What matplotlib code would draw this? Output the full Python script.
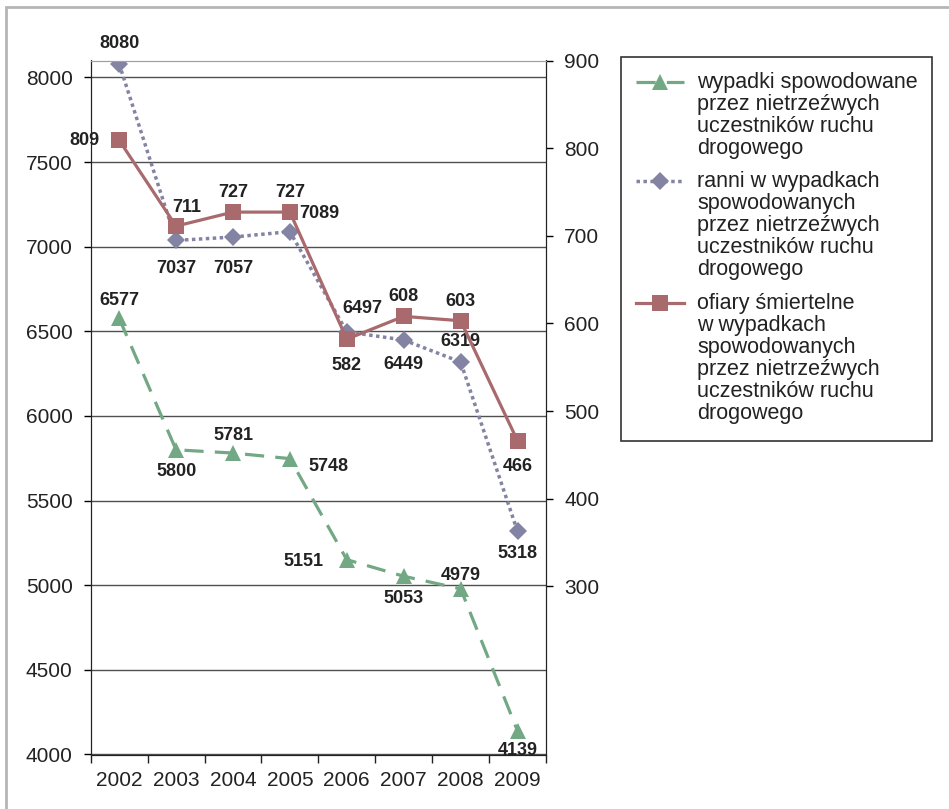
import numpy as np
import matplotlib.pyplot as plt
from matplotlib.lines import Line2D
from matplotlib.patches import Rectangle

plt.rcParams['font.family'] = ['Liberation Sans', 'DejaVu Sans']

# dane
lata = ['2002', '2003', '2004', '2005', '2006', '2007', '2008', '2009']
wypadki = [6577, 5800, 5781, 5748, 5151, 5053, 4979, 4139]
ranni = [8080, 7037, 7057, 7089, 6497, 6449, 6319, 5318]
ofiary = [809, 711, 727, 727, 582, 608, 603, 466]

lab_wypadki = ['wypadki spowodowane', 'przez nietrzeźwych',
               'uczestników ruchu', 'drogowego']
lab_ranni = ['ranni w wypadkach', 'spowodowanych', 'przez nietrzeźwych',
             'uczestników ruchu', 'drogowego']
lab_ofiary = ['ofiary śmiertelne', 'w wypadkach', 'spowodowanych',
              'przez nietrzeźwych', 'uczestników ruchu', 'drogowego']

# przesunięcia etykiet (px)
off_wypadki = [(0, 18), (0, -22), (0, 18), (39, -8), (-43, -2), (0, -22), (0, 13), (0, -20)]
off_ranni = [(0, 20), (0, -28), (0, -31), (29, 18), (16, 23), (0, -25), (0, 20), (0, -22)]
off_ofiary = [(-35, 0), (11, 19), (0, 20), (0, 20), (0, -26), (0, 20), (0, 19.5), (0, -26)]

c_green = '#72a883'
c_gray = '#8383a3'
c_red = '#a86a6d'
c_txt = '#222222'

st_green = dict(color=c_green, lw=2.3, dashes=(6, 3.5), marker='^', ms=12, markeredgewidth=0)
st_gray = dict(color=c_gray, lw=2.5, dashes=(1, 1), marker='D', ms=9, markeredgewidth=0)
st_red = dict(color=c_red, lw=2.3, marker='s', ms=12, markeredgewidth=0)

W, H = 949, 809
fig = plt.figure(figsize=(W / 100, H / 100), dpi=100)
ax = fig.add_axes([90.7 / W, 1 - 754.5 / H, (546 - 90.7) / W, (754.5 - 60.5) / H])
ax2 = ax.twinx()

x = np.arange(len(lata))

ax.plot(x, wypadki, zorder=3, **st_green)
ax.plot(x, ranni, zorder=3, **st_gray)
ax2.plot(x, ofiary, zorder=3, **st_red)

def etykiety(a, vals, offs):
    for xi, v, (dx, dy) in zip(x, vals, offs):
        a.annotate(str(v), (xi, v), xytext=(dx * 0.72, dy * 0.72),
                   textcoords='offset points', ha='center', va='center',
                   fontsize=13, fontweight='bold', color=c_txt, zorder=5)

etykiety(ax, wypadki, off_wypadki)
etykiety(ax, ranni, off_ranni)
etykiety(ax2, ofiary, off_ofiary)

# osie
ax.set_xlim(-0.5, len(lata) - 0.5)
ax.set_ylim(4000, 8100)
ax.set_yticks(np.arange(4000, 8001, 500))
ax2.set_ylim(108, 900)
ax2.set_yticks(np.arange(300, 901, 100))

ax.set_xticks(np.arange(-0.5, len(lata)), [''] * (len(lata) + 1))
ax.set_xticks(x, lata, minor=True)
ax.tick_params(axis='x', which='major', length=6, width=1, color=c_txt)
ax.tick_params(axis='x', which='minor', length=0, pad=12, labelsize=15, labelcolor=c_txt)
ax.tick_params(axis='y', length=5, width=1, pad=8, labelsize=15, labelcolor=c_txt)
ax2.tick_params(axis='y', length=5, width=1, pad=8, labelsize=15, labelcolor=c_txt)

ax.yaxis.grid(True, color='#505050', lw=1)
ax.set_axisbelow(True)

for a in (ax, ax2):
    a.spines['top'].set_color('#a0a0a0')
    for s in ('left', 'right', 'bottom'):
        a.spines[s].set_color(c_txt)

# legenda (rysowana ręcznie, znacznik przy pierwszej linii opisu)
fig.patches.append(Rectangle((621 / W, 1 - 441 / H), 311 / W, 384 / H,
                             transform=fig.transFigure, fill=False,
                             edgecolor='#333333', lw=1.2))
wpisy = [(st_green, lab_wypadki, 88), (st_gray, lab_ranni, 187), (st_red, lab_ofiary, 309)]
for st, linie, y0 in wpisy:
    yc = 1 - (y0 - 6) / H
    styl = {k: v for k, v in st.items() if k not in ('marker', 'ms', 'markeredgewidth')}
    fig.add_artist(Line2D([636 / W, 684 / W], [yc, yc], transform=fig.transFigure, **styl))
    fig.add_artist(Line2D([660 / W], [yc], transform=fig.transFigure, color=st['color'],
                          marker=st['marker'], ms=st['ms'], markeredgewidth=0, lw=0))
    for i, t in enumerate(linie):
        fig.text(697 / W, 1 - (y0 + 22 * i) / H, t, fontsize=15.5, color=c_txt,
                 va='baseline', ha='left')

# ramka
fig.patches.append(Rectangle((6 / W, -0.1), 1.2, 1.1 - 7 / H, transform=fig.transFigure,
                             fill=False, edgecolor='#b5b5b5', lw=2))

fig.savefig('out.png', dpi=100)
